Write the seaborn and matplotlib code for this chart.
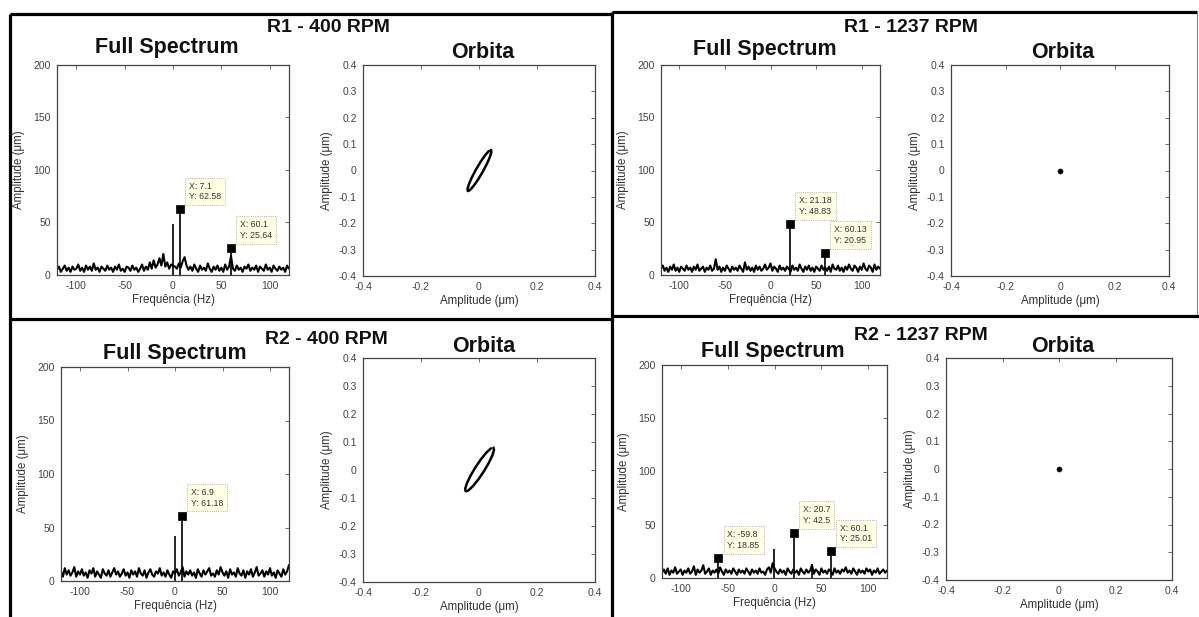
import numpy as np
import pandas as pd
import seaborn as sns
import matplotlib.pyplot as plt
from matplotlib.lines import Line2D

# ---------------------------------------------------------------- data
# frequency grid of the noise floor (Hz)
freq_grid = list(range(-120, 121, 2))

# noise floor amplitudes (um), one value per grid frequency
noise_r1_400 = [
    5, 8, 3, 6, 9, 4, 7, 3, 8, 5,
    6, 10, 4, 7, 3, 9, 5, 8, 4, 11,
    5, 7, 3, 8, 6, 4, 9, 5, 7, 3,
    8, 5, 10, 4, 6, 3, 8, 7, 4, 9,
    5, 7, 3, 6, 10, 4, 8, 5, 12, 6,
    14, 7, 10, 16, 9, 20, 8, 12, 6, 10,
    9, 8, 6, 11, 7, 13, 17, 9, 5, 8,
    4, 10, 6, 3, 9, 5, 7, 4, 11, 6,
    3, 8, 5, 9, 4, 7, 3, 10, 5, 8,
    18, 6, 4, 9, 5, 7, 3, 8, 6, 10,
    4, 7, 5, 9, 3, 8, 6, 4, 10, 5,
    7, 3, 9, 6, 4, 8, 5, 7, 3, 9,
    6]
noise_r1_1237 = [
    6, 9, 4, 7, 3, 8, 5, 10, 4, 7,
    3, 8, 6, 4, 9, 5, 7, 3, 8, 5,
    10, 4, 6, 8, 3, 7, 5, 9, 4, 6,
    15, 5, 8, 3, 7, 4, 9, 6, 3, 8,
    5, 7, 4, 9, 6, 3, 12, 5, 8, 4,
    7, 3, 9, 5, 8, 4, 6, 10, 5, 7,
    11, 4, 8, 6, 3, 9, 5, 7, 4, 8,
    6, 3, 9, 5, 7, 4, 10, 6, 3, 8,
    5, 9, 4, 7, 3, 8, 6, 4, 9, 5,
    7, 4, 8, 3, 10, 6, 5, 9, 4, 7,
    3, 8, 5, 10, 6, 4, 9, 7, 3, 8,
    5, 11, 6, 4, 9, 7, 3, 10, 5, 8,
    6]
noise_r2_400 = [
    9, 4, 12, 6, 10, 5, 8, 13, 4, 9,
    6, 11, 5, 8, 3, 10, 7, 12, 4, 9,
    6, 3, 11, 7, 5, 10, 4, 8, 12, 6,
    9, 4, 7, 11, 5, 8, 3, 10, 6, 9,
    4, 12, 7, 5, 10, 3, 8, 11, 6, 4,
    9, 7, 12, 5, 8, 4, 10, 6, 3, 9,
    7, 11, 5, 8, 13, 4, 9, 6, 10, 5,
    8, 3, 11, 7, 4, 10, 6, 9, 12, 5,
    7, 4, 10, 6, 13, 8, 5, 9, 3, 11,
    6, 8, 4, 12, 7, 5, 10, 3, 9, 6,
    11, 4, 8, 13, 5, 7, 10, 4, 9, 6,
    12, 5, 8, 3, 10, 7, 4, 11, 6, 9,
    15]
noise_r2_1237 = [
    5, 8, 4, 9, 3, 7, 5, 10, 4, 6,
    8, 3, 7, 5, 9, 4, 6, 11, 3, 8,
    5, 7, 12, 4, 6, 9, 3, 7, 5, 8,
    4, 10, 6, 3, 8, 5, 7, 4, 9, 6,
    3, 8, 5, 7, 4, 9, 6, 3, 8, 5,
    7, 4, 9, 5, 6, 3, 8, 10, 5, 14,
    9, 6, 4, 8, 5, 7, 3, 9, 6, 4,
    8, 5, 7, 3, 9, 6, 4, 8, 5, 7,
    12, 4, 8, 6, 3, 9, 5, 7, 4, 8,
    6, 3, 9, 5, 7, 4, 8, 6, 10, 5,
    7, 4, 9, 6, 3, 8, 5, 7, 4, 9,
    6, 8, 3, 7, 5, 9, 4, 6, 8, 5,
    7]

# unmarked spectral lines
spike_f_r1_400, spike_a_r1_400 = [0.0], [49.0]
spike_f_r1_1237, spike_a_r1_1237 = [], []
spike_f_r2_400, spike_a_r2_400 = [0.0], [42.0]
spike_f_r2_1237, spike_a_r2_1237 = [-1.0, 40.0], [27.0, 13.0]

# marked peaks (data tips)
tip_f_r1_400, tip_a_r1_400 = [7.1, 60.1], [62.58, 25.64]
tip_f_r1_1237, tip_a_r1_1237 = [21.18, 60.13], [48.83, 20.95]
tip_f_r2_400, tip_a_r2_400 = [6.9], [61.18]
tip_f_r2_1237, tip_a_r2_1237 = [-59.8, 20.7, 60.1], [18.85, 42.5, 25.01]

# shaft orbits (um)
orbit_r1_400_x = [0.0415, 0.0427, 0.0376, 0.0270, 0.0125, -0.0037, -0.0190, -0.0313,
                  -0.0385, -0.0397, -0.0346, -0.0240, -0.0095, 0.0067, 0.0220, 0.0343, 0.0415]
orbit_r1_400_y = [0.0780, 0.0699, 0.0512, 0.0247, -0.0056, -0.0351, -0.0591, -0.0742,
                  -0.0780, -0.0699, -0.0512, -0.0247, 0.0056, 0.0351, 0.0591, 0.0742, 0.0780]
orbit_r2_400_x = [0.0500, 0.0517, 0.0458, 0.0333, 0.0160, -0.0034, -0.0220, -0.0370,
                  -0.0460, -0.0477, -0.0418, -0.0293, -0.0120, 0.0074, 0.0260, 0.0410, 0.0500]
orbit_r2_400_y = [0.0800, 0.0710, 0.0515, 0.0245, -0.0060, -0.0353, -0.0588, -0.0732,
                  -0.0760, -0.0670, -0.0474, -0.0205, 0.0100, 0.0393, 0.0628, 0.0772, 0.0800]
orbit_r1_1237_x, orbit_r1_1237_y = [0.0], [0.0]
orbit_r2_1237_x, orbit_r2_1237_y = [0.0], [0.0]

spec_xticks = [-100, -50, 0, 50, 100]
spec_yticks = [0, 50, 100, 150, 200]
orb_xticks = [-0.4, -0.2, 0, 0.2, 0.4]
orb_yticks = [-0.4, -0.3, -0.2, -0.1, 0, 0.1, 0.2, 0.3, 0.4]

# ---------------------------------------------------------------- style
sns.set_style("white")
plt.rcParams['font.family'] = ['Liberation Sans', 'DejaVu Sans']
plt.rcParams.update({
    'axes.unicode_minus': False,
    'xtick.direction': 'in', 'ytick.direction': 'in',
    'xtick.top': True, 'ytick.right': True,
    'xtick.major.size': 3, 'ytick.major.size': 3,
    'xtick.major.width': 0.6, 'ytick.major.width': 0.6,
    'xtick.color': '#555555', 'ytick.color': '#555555',
    'xtick.labelcolor': '#444444', 'ytick.labelcolor': '#444444',
    'axes.edgecolor': '#444444', 'axes.linewidth': 0.9,
})

W, H = 1199, 617
fig = plt.figure(figsize=(W / 100, H / 100), dpi=100)


def box(x0, y0, x1, y1):
    """axes rectangle given in pixel corners (top-left origin)"""
    return [x0 / W, 1 - y1 / H, (x1 - x0) / W, (y1 - y0) / H]


def style_axes(ax):
    ax.tick_params(labelsize=7.5, pad=4.5)
    for s in ax.spines.values():
        s.set_visible(True)


def spectrum(rect, noise, sf, sa, tf, ta):
    ax = fig.add_axes(box(*rect))
    df = pd.DataFrame({'f': freq_grid, 'a': noise})
    sns.lineplot(data=df, x='f', y='a', ax=ax, color='black', lw=1.5)
    allf = list(sf) + list(tf)
    alla = list(sa) + list(ta)
    ax.vlines(allf, 0, alla, color='black', lw=1.2)
    sns.scatterplot(x=tf, y=ta, ax=ax, marker='s', s=26, color='black',
                    edgecolor='black', linewidth=0.5, zorder=5)
    for f, a in zip(tf, ta):
        ax.annotate(f"X: {f:g}\nY: {a:g}", (f, a), xytext=(9, 8),
                    textcoords='offset pixels', ha='left', va='bottom',
                    fontsize=6.3, color='#333333', linespacing=1.25,
                    bbox=dict(boxstyle='square,pad=0.45', fc='#ffffe4',
                              ec='#999999', lw=0.6, ls=':'))
    ax.set_xlim(-120, 120)
    ax.set_ylim(0, 200)
    ax.set_xticks(spec_xticks)
    ax.set_yticks(spec_yticks)
    ax.set_xlabel('Frequência (Hz)', fontsize=8.3, color='#333333', labelpad=2)
    ax.set_ylabel('Amplitude (μm)', fontsize=8.3, color='#333333', labelpad=6)
    style_axes(ax)
    return ax


def orbit(rect, ox, oy):
    ax = fig.add_axes(box(*rect))
    if len(ox) > 1:
        sns.lineplot(x=ox, y=oy, ax=ax, sort=False, color='black', lw=1.8)
    else:
        sns.scatterplot(x=ox, y=oy, ax=ax, s=14, color='black', edgecolor='black')
    ax.set_xlim(-0.4, 0.4)
    ax.set_ylim(-0.4, 0.4)
    ax.set_xticks(orb_xticks)
    ax.set_xticklabels([f"{t:g}" for t in orb_xticks])
    ax.set_yticks(orb_yticks)
    ax.set_yticklabels([f"{t:g}" for t in orb_yticks])
    ax.set_xlabel('Amplitude (μm)', fontsize=8.3, color='#333333', labelpad=2)
    ax.set_ylabel('Amplitude (μm)', fontsize=8.3, color='#333333', labelpad=4)
    style_axes(ax)
    return ax


# ---------------------------------------------------------------- panels
spectrum((57, 65, 289, 275), noise_r1_400, spike_f_r1_400, spike_a_r1_400,
         tip_f_r1_400, tip_a_r1_400)
orbit((363, 65, 595, 276), orbit_r1_400_x, orbit_r1_400_y)

spectrum((661, 65, 880, 275), noise_r1_1237, spike_f_r1_1237, spike_a_r1_1237,
         tip_f_r1_1237, tip_a_r1_1237)
orbit((951, 65, 1169, 276), orbit_r1_1237_x, orbit_r1_1237_y)

spectrum((61, 367, 289, 581), noise_r2_400, spike_f_r2_400, spike_a_r2_400,
         tip_f_r2_400, tip_a_r2_400)
orbit((363, 358, 595, 582), orbit_r2_400_x, orbit_r2_400_y)

spectrum((662, 365, 887, 578), noise_r2_1237, spike_f_r2_1237, spike_a_r2_1237,
         tip_f_r2_1237, tip_a_r2_1237)
orbit((946, 358, 1172, 580), orbit_r2_1237_x, orbit_r2_1237_y)

# ---------------------------------------------------------------- titles
def ftext(x, y, s, size):
    fig.text(x / W, 1 - y / H, s, ha='center', va='center', fontsize=size,
             fontweight='bold', color='#111111')


ftext(328, 28, 'R1 - 400 RPM', 14)
ftext(167, 48, 'Full Spectrum', 15.5)
ftext(483, 52, 'Orbita', 15.5)

ftext(911, 28, 'R1 - 1237 RPM', 14)
ftext(765, 49, 'Full Spectrum', 15.5)
ftext(1063, 52, 'Orbita', 15.5)

ftext(326, 340, 'R2 - 400 RPM', 14)
ftext(175, 354, 'Full Spectrum', 15.5)
ftext(484, 346, 'Orbita', 15.5)

ftext(921, 336, 'R2 - 1237 RPM', 14)
ftext(773, 351, 'Full Spectrum', 15.5)
ftext(1063, 346, 'Orbita', 15.5)

# ---------------------------------------------------------------- frames
def fline(x0, y0, x1, y1, lw=2.3, color='black'):
    fig.add_artist(Line2D([x0 / W, x1 / W], [1 - y0 / H, 1 - y1 / H],
                          transform=fig.transFigure, color=color, lw=lw,
                          solid_capstyle='butt'))


fline(10, 14, 10, 617)
fline(10, 14, 612, 14)
fline(612, 12, 612, 617)
fline(612, 12, 1197, 12)
fline(1197, 12, 1197, 316, lw=0.8, color='#888888')
fline(10, 319, 612, 319)
fline(612, 316, 1199, 316)

fig.savefig('out.png', dpi=100)
